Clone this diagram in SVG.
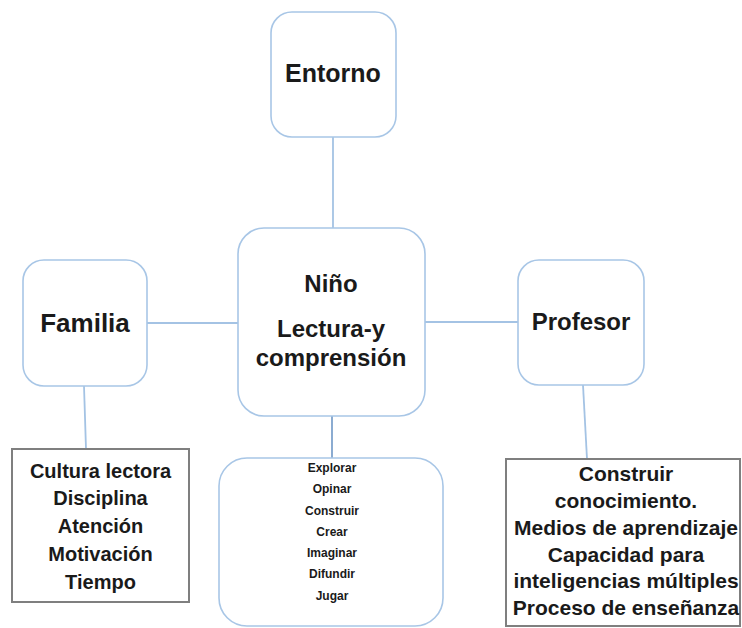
<svg xmlns="http://www.w3.org/2000/svg" width="742" height="628" viewBox="0 0 742 628">
  <style>
    .rbox { fill: #ffffff; stroke: #a8c6e6; stroke-width: 1.6; }
    .list { fill: #ffffff; stroke: #7f7f7f; stroke-width: 2; }
    .conn { stroke: #a4c3e4; stroke-width: 1.8; fill: none; }
    .conn-dark { stroke: #6e97c6; stroke-width: 1.6; fill: none; }
    text { font-family: "Liberation Sans", Arial, sans-serif; font-weight: bold; fill: #1a1a1a; text-anchor: middle; }
    .big { font-size: 25px; }
    .mid { font-size: 24px; }
    .lst { font-size: 20px; }
    .lst2 { font-size: 21px; }
    .small { font-size: 12px; }
  </style>
  <rect width="742" height="628" fill="#ffffff"/>
  <g id="connectors">
    <line class="conn" x1="333" y1="137" x2="333" y2="228"/>
    <line class="conn" x1="147" y1="323" x2="238" y2="323"/>
    <line class="conn" x1="425" y1="322" x2="518" y2="322"/>
    <line class="conn" x1="84" y1="386" x2="86" y2="449"/>
    <line class="conn" x1="583" y1="385" x2="587" y2="459"/>
    <line class="conn-dark" x1="332" y1="416" x2="332" y2="458"/>
  </g>
  <g id="entorno">
    <rect class="rbox" x="271" y="12" width="125" height="125" rx="21"/>
    <text class="big" x="333" y="82">Entorno</text>
  </g>
  <g id="nino">
    <rect class="rbox" x="238" y="228" width="187" height="188" rx="26"/>
    <text class="mid" x="331" y="292">Niño</text>
    <text class="mid" x="331" y="337">Lectura-y</text>
    <text class="mid" x="331" y="366">comprensión</text>
  </g>
  <g id="familia">
    <rect class="rbox" x="23" y="260" width="124" height="126" rx="21"/>
    <text x="85" y="332" style="font-size:26px">Familia</text>
  </g>
  <g id="profesor">
    <rect class="rbox" x="518" y="260" width="126" height="125" rx="21"/>
    <text class="mid" x="581" y="330">Profesor</text>
  </g>
  <g id="familia-list">
    <rect class="list" x="12" y="449" width="177" height="153"/>
    <text class="lst" x="100.5" y="478">Cultura lectora</text>
    <text class="lst" x="100.5" y="505">Disciplina</text>
    <text class="lst" x="100.5" y="533">Atención</text>
    <text class="lst" x="100.5" y="561">Motivación</text>
    <text class="lst" x="100.5" y="589">Tiempo</text>
  </g>
  <g id="profesor-list">
    <rect class="list" x="506" y="459" width="234" height="167"/>
    <text class="lst2" x="626" y="481">Construir</text>
    <text class="lst2" x="626" y="508">conocimiento.</text>
    <text class="lst2" x="626" y="535">Medios de aprendizaje</text>
    <text class="lst2" x="626" y="562">Capacidad para</text>
    <text class="lst2" x="626" y="588">inteligencias múltiples</text>
    <text class="lst2" x="626" y="615">Proceso de enseñanza</text>
  </g>
  <g id="nino-actions">
    <rect class="rbox" x="219" y="458" width="224" height="168" rx="28"/>
    <text class="small" x="332" y="472">Explorar</text>
    <text class="small" x="332" y="493">Opinar</text>
    <text class="small" x="332" y="515">Construir</text>
    <text class="small" x="332" y="536">Crear</text>
    <text class="small" x="332" y="557">Imaginar</text>
    <text class="small" x="332" y="578">Difundir</text>
    <text class="small" x="332" y="600">Jugar</text>
  </g>
</svg>
